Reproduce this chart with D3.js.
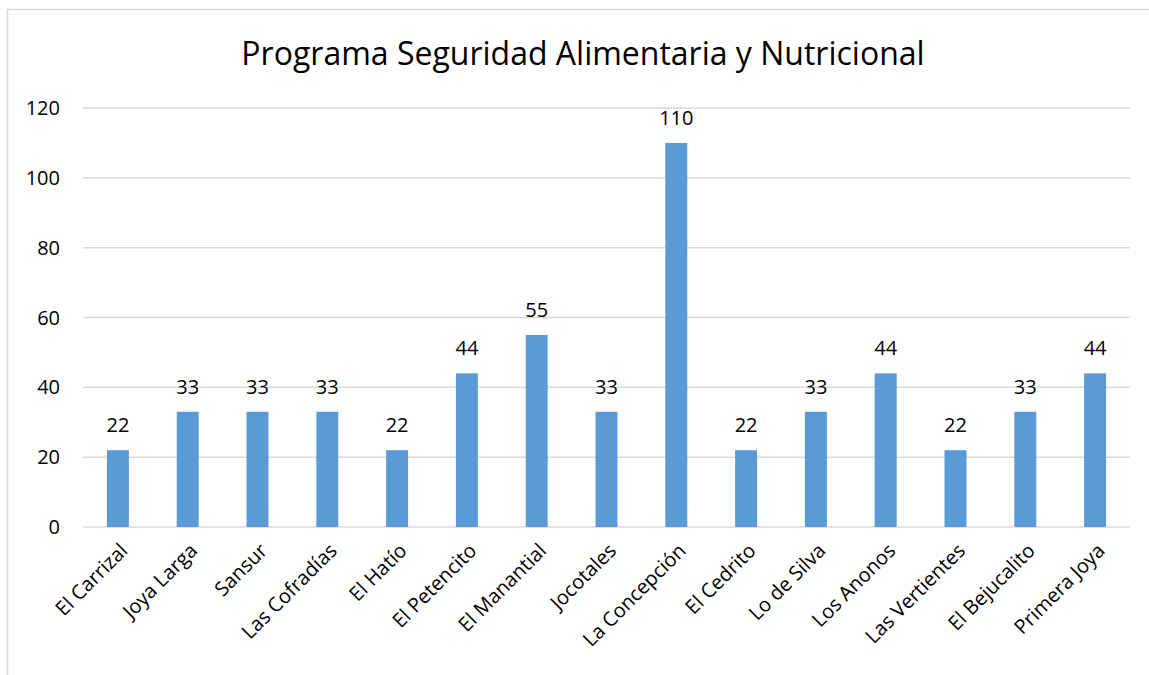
<!DOCTYPE html>
<html>
<head>
<meta charset="utf-8">
<title>Programa Seguridad Alimentaria y Nutricional</title>
<script src="https://d3js.org/d3.v7.min.js"></script>
<style>
    body {
        margin: 0;
        background: #fff;
        font-family: 'Open Sans', sans-serif;
    }
    .grid line {
        stroke: #d9d9d9;
        stroke-width: 1.5px;
    }
    .yLabel, .xLabel, .valueLabel {
        font-size: 20px;
        fill: #000;
    }
    .chartTitle {
        font-size: 32px;
        fill: #000;
    }
</style>
</head>
<body>
    <svg id="chart" width="1149" height="675"></svg>
    <script>
        // data
        const communities = ["El Carrizal", "Joya Larga", "Sansur", "Las Cofradías", "El Hatío",
            "El Petencito", "El Manantial", "Jocotales", "La Concepción", "El Cedrito",
            "Lo de Silva", "Los Anonos", "Las Vertientes", "El Bejucalito", "Primera Joya"];
        const counts = [22, 33, 33, 33, 22, 44, 55, 33, 110, 22, 33, 44, 22, 33, 44];
        const yTicks = [0, 20, 40, 60, 80, 100, 120];

        const svg = d3.select("#chart");
        const margin = { top: 108, right: 19, bottom: 148, left: 83 };
        const width = 1149 - margin.left - margin.right;
        const height = 675 - margin.top - margin.bottom;

        // chart border
        svg.append("rect")
            .attr("x", 7.5).attr("y", 9.5)
            .attr("width", 1160).attr("height", 700)
            .attr("fill", "none")
            .attr("stroke", "#d9d9d9")
            .attr("stroke-width", 1.5);

        svg.append("text")
            .attr("class", "chartTitle")
            .attr("x", 583)
            .attr("y", 65)
            .attr("text-anchor", "middle")
            .text("Programa Seguridad Alimentaria y Nutricional");

        const g = svg.append("g")
            .attr("transform", "translate(" + margin.left + "," + margin.top + ")");

        const x = d3.scaleBand()
            .domain(communities)
            .range([0, width])
            .paddingInner(0.685)
            .paddingOuter(0.3425);

        const y = d3.scaleLinear()
            .domain([0, 120])
            .range([height, 0]);

        // gridlines
        g.append("g")
            .attr("class", "grid")
            .selectAll("line")
            .data(yTicks)
            .enter()
            .append("line")
            .attr("x1", 0)
            .attr("x2", width)
            .attr("y1", d => y(d))
            .attr("y2", d => y(d));

        g.selectAll(".yLabel")
            .data(yTicks)
            .enter()
            .append("text")
            .attr("class", "yLabel")
            .attr("x", -23)
            .attr("y", d => y(d))
            .attr("dy", "0.35em")
            .attr("text-anchor", "end")
            .text(d => d);

        g.selectAll(".bar")
            .data(counts)
            .enter()
            .append("rect")
            .attr("class", "bar")
            .attr("x", (d, i) => x(communities[i]))
            .attr("y", d => y(d))
            .attr("width", x.bandwidth())
            .attr("height", d => height - y(d))
            .style("fill", "#5b9bd5");

        g.selectAll(".valueLabel")
            .data(counts)
            .enter()
            .append("text")
            .attr("class", "valueLabel")
            .attr("x", (d, i) => x(communities[i]) + x.bandwidth() / 2)
            .attr("y", d => y(d) - 18)
            .attr("text-anchor", "middle")
            .text(d => d);

        g.selectAll(".xLabel")
            .data(communities)
            .enter()
            .append("text")
            .attr("class", "xLabel")
            .attr("text-anchor", "end")
            .attr("transform", d => "translate(" + (x(d) + x.bandwidth() / 2 + 6) + "," + (height + 20) + ") rotate(-45)")
            .attr("dy", "0.35em")
            .text(d => d);
    </script>
</body>
</html>
